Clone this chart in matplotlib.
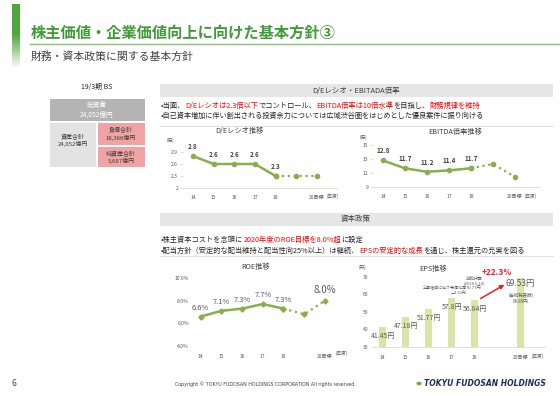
import numpy as np
import matplotlib
matplotlib.use("Agg")
import matplotlib.pyplot as plt
from matplotlib.patches import Rectangle

plt.rcParams['font.family'] = ['Noto Sans CJK JP', 'DejaVu Sans']

# data
years = ['14', '15', '16', '17', '18', '', '20目標']
de_ratio = [2.8, 2.6, 2.6, 2.6, 2.3, 2.3, 2.3]
ebitda = [12.8, 11.7, 11.2, 11.4, 11.7, 12.3, 10.5]
roe = [6.6, 7.1, 7.3, 7.7, 7.3, 6.8, 8.0]
eps = [41.45, 47.18, 51.77, 57.8, 56.84, np.nan, 69.53]
eps_labels = ['41.45円', '47.18円', '51.77円', '57.8円', '56.84円', '', '69.53円']
bs_labels = ['総資産\n24,052億円', '資産合計\n24,052億円', '負債合計\n18,366億円', '純資産合計\n5,687億円']

W, H = 560, 396
GREEN = '#8AAE4C'
DARK = '#262626'
GRAY = '#595959'
RED = '#FF0000'

fig = plt.figure(figsize=(W / 100, H / 100), dpi=100)
fig.patch.set_facecolor('white')
rend = fig.canvas.get_renderer()


def fx(x):
    return x / W


def fy(y):
    return 1 - y / H


def rect(x0, y0, x1, y1):
    return [x0 / W, 1 - y1 / H, (x1 - x0) / W, (y1 - y0) / H]


def box(x0, y0, x1, y1, color):
    fig.add_artist(Rectangle((fx(x0), fy(y1)), (x1 - x0) / W, (y1 - y0) / H,
                             transform=fig.transFigure, facecolor=color, edgecolor='none'))


def hline(y, x0, x1, color, lw=0.6):
    fig.add_artist(plt.Line2D([fx(x0), fx(x1)], [fy(y), fy(y)], transform=fig.transFigure,
                              color=color, lw=lw))


def rich(x, y, parts, size):
    cx = x
    for s, c in parts:
        t = fig.text(fx(cx), fy(y), s, color=c, fontsize=size, va='center', ha='left')
        cx += t.get_window_extent(renderer=rend).width


# title block
gax = fig.add_axes(rect(12, 4, 19, 68))
grad = np.ones((60, 1, 3))
g = np.array([0.31, 0.66, 0.24])
for i in range(60):
    a = 1.0 if i < 28 else max(0.0, 1 - (i - 28) / 32)
    grad[i, 0] = g * a + (1 - a)
gax.imshow(grad, aspect='auto')
gax.axis('off')
fig.text(fx(31), fy(33), '株主価値・企業価値向上に向けた基本方針③', fontsize=11,
         fontweight='bold', color='#3E9B37', va='center')
hline(44, 30, 560, '#8CC07A', lw=1.0)
fig.text(fx(31), fy(57), '財務・資本政策に関する基本方針', fontsize=7.8, color='#404040', va='center')

# balance sheet
fig.text(fx(97), fy(87), '19/3期 BS', fontsize=5, color=DARK, ha='center', va='center')
box(50, 99, 145, 121, '#B4B4B4')
box(50, 123, 96, 167, '#E3E3E3')
box(98, 123, 145, 145, '#EFA3A3')
box(98, 147, 145, 167, '#EFA3A3')
fig.text(fx(97), fy(110), bs_labels[0], fontsize=4.8, color='white', ha='center', va='center',
         linespacing=1.2)
fig.text(fx(73), fy(140), bs_labels[1], fontsize=4.3, color='#404040', ha='center', va='center',
         linespacing=1.2)
fig.text(fx(121), fy(134), bs_labels[2], fontsize=4.3, color='#404040', ha='center', va='center',
         linespacing=1.2)
fig.text(fx(121), fy(157), bs_labels[3], fontsize=4.3, color='#404040', ha='center', va='center',
         linespacing=1.2)

# section headers and bullets
box(160, 84, 553, 97, '#E6E6E6')
fig.text(fx(356), fy(90.5), 'D/Eレシオ・EBITADA倍率', fontsize=5.4, color='#404040',
         ha='center', va='center')
rich(161, 106, [('•当面、', DARK), ('D/Eレシオは2.3倍以下', RED), ('でコントロール、', DARK),
                ('EBITDA倍率は10倍水準', RED), ('を目指し、', DARK), ('財務規律を維持', RED)], 5.25)
rich(161, 116, [('•自己資本増加に伴い創出される投資余力については広域渋谷圏をはじめとした優良案件に振り向ける',
                 DARK)], 5.15)
hline(126, 160, 553, '#D9D9D9')

box(160, 213, 553, 226, '#E6E6E6')
fig.text(fx(356), fy(219.5), '資本政策', fontsize=5.4, color='#404040', ha='center', va='center')
rich(161, 240, [('•株主資本コストを念頭に', DARK), ('2020年度のROE目標を8.0%超', RED), ('に設定', DARK)], 5.2)
rich(161, 251, [('•配当方針（安定的な配当維持と配当性向25%以上）は継続、', DARK),
                ('EPSの安定的な成長', RED), ('を通じ、株主還元の充実を図る', DARK)], 5.2)
hline(256, 160, 553, '#D9D9D9')

x = np.arange(len(years))


def style(ax, bottom_spine=True):
    for s in ['top', 'right', 'left']:
        ax.spines[s].set_visible(False)
    ax.spines['bottom'].set_visible(bottom_spine)
    ax.spines['bottom'].set_color('#D9D9D9')
    ax.spines['bottom'].set_linewidth(0.6)
    ax.set_xticks(x)
    ax.set_xticklabels(years)
    ax.tick_params(axis='x', length=0, labelsize=3.6, labelcolor=GRAY, pad=5)
    ax.tick_params(axis='y', length=2, width=0.4, color='#BFBFBF', labelsize=3.6,
                   labelcolor=GRAY, pad=1.5)
    ax.patch.set_alpha(0)


def trend(ax, vals, marker, ms):
    ax.plot(x[:5], vals[:5], color=GREEN, lw=1.8, marker=marker, ms=ms, zorder=3)
    ax.plot(x[4:], vals[4:], color=GREEN, lw=1.6, ls=':', marker=marker, ms=ms, zorder=3)


# D/E ratio
ax1 = fig.add_axes(rect(183, 148, 337, 188))
trend(ax1, de_ratio, 'o', 3)
ax1.set_xlim(-0.48, 6.97)
ax1.set_ylim(2, 3)
ax1.set_yticks([2, 2.3, 2.6, 2.9])
ax1.set_yticklabels(['2', '2.3', '2.6', '2.9'])
style(ax1)
for i in range(5):
    ax1.annotate(f'{de_ratio[i]}', (x[i], de_ratio[i]), xytext=(0, 7), textcoords='offset points',
                 ha='center', va='center', fontsize=4.6, fontweight='bold', color='#404040')
fig.text(fx(239), fy(131), 'D/Eレシオ推移', fontsize=5.2, color='#404040', ha='center', va='center')
fig.text(fx(167), fy(140), '(倍)', fontsize=3.3, color=GRAY, va='center')
fig.text(fx(327), fy(196), '(年度)', fontsize=3.3, color=GRAY, va='center')

# EBITDA multiple
ax2 = fig.add_axes(rect(373, 143, 540, 187.3))
trend(ax2, ebitda, 'o', 3)
ax2.set_xlim(-0.45, 7.14)
ax2.set_ylim(9, 15.28)
ax2.set_yticks([9, 11, 13, 15])
style(ax2)
for i in range(5):
    ax2.annotate(f'{ebitda[i]}', (x[i], ebitda[i]), xytext=(0, 7), textcoords='offset points',
                 ha='center', va='center', fontsize=4.6, fontweight='bold', color='#404040')
fig.text(fx(455), fy(132), 'EBITDA倍率推移', fontsize=5.2, color='#404040', ha='center', va='center')
fig.text(fx(360), fy(137), '(倍)', fontsize=3.3, color=GRAY, va='center')
fig.text(fx(525), fy(196), '(年度)', fontsize=3.3, color=GRAY, va='center')

# ROE
ax3 = fig.add_axes(rect(193, 278, 345, 346))
trend(ax3, roe, 'D', 2.6)
ax3.set_xlim(-0.37, 6.97)
ax3.set_ylim(4, 10)
ax3.set_yticks([4, 6, 8, 10])
ax3.set_yticklabels(['4.0%', '6.0%', '8.0%', '10.0%'])
style(ax3, bottom_spine=False)
ax3.tick_params(axis='y', length=0, pad=3)
ax3.tick_params(axis='x', pad=6)
for i in range(5):
    ax3.annotate(f'{roe[i]:.1f}%', (x[i], roe[i]), xytext=(0, 6.5), textcoords='offset points',
                 ha='center', va='center', fontsize=5.4, color=GRAY)
ax3.annotate(f'{roe[6]:.1f}%', (x[6], roe[6]), xytext=(0, 7.5), textcoords='offset points',
             ha='center', va='center', fontsize=7, color=GRAY)
fig.text(fx(256), fy(267), 'ROE推移', fontsize=5.2, color='#404040', ha='center', va='center')
fig.text(fx(336), fy(353), '(年度)', fontsize=3.3, color=GRAY, va='center')

# EPS
ax4 = fig.add_axes(rect(372, 276, 545, 347))
ax4.bar(x, np.array(eps) - 30, bottom=30, width=0.32, color='#D9E5A6', zorder=2)
ax4.set_xlim(-0.47, 7.06)
ax4.set_ylim(30, 70.4)
ax4.set_yticks([30, 40, 50, 60, 70])
style(ax4)
ax4.tick_params(axis='y', length=0, pad=2.5)
ax4.tick_params(axis='x', pad=6)
for i in range(5):
    ax4.text(x[i], eps[i] - 5.2, eps_labels[i], ha='center', va='center', fontsize=5, color=GRAY,
             zorder=4)
ax4.text(x[6], 66.4, eps_labels[6], ha='center', va='center', fontsize=6, color=GRAY, zorder=4)
ax4.text(x[6], 57.5, '(当初発表時)\n68.89円', ha='center', va='center', fontsize=3.2, color=GRAY,
         linespacing=1.2, zorder=4)
ax4.text(3.98, 66.3, '当初計画\n(2018.5.10)\n60.77円', ha='center', va='center', fontsize=3,
         color=GRAY, linespacing=1.15, zorder=4)
ax4.text(3.67, 62.3, '公募増資に伴う希薄化等\n△3.93円', ha='right', va='center', fontsize=2.9,
         color=GRAY, linespacing=1.15, zorder=4)
ax4.annotate('', xy=(5.4, 66.2), xytext=(4.15, 56.8),
             arrowprops=dict(arrowstyle='-|>', color='#E8202A', lw=1.1, mutation_scale=6), zorder=5)
ax4.text(4.95, 72.2, '+22.3%', ha='center', va='center', fontsize=6, fontweight='bold',
         color='#E8202A')
fig.text(fx(433), fy(269), 'EPS推移', fontsize=5.2, color='#404040', ha='center', va='center')
fig.text(fx(359), fy(267), '(円)', fontsize=3.3, color=GRAY, va='center')
fig.text(fx(532), fy(356), '(年度)', fontsize=3.3, color=GRAY, va='center')

# footer
fig.text(fx(12), fy(384), '6', fontsize=6, color='#404040', va='center')
fig.text(fx(265), fy(384), 'Copyright © TOKYU FUDOSAN HOLDINGS CORPORATION All rights reserved.',
         fontsize=3.4, color='#404040', ha='center', va='center', family=['DejaVu Sans'])
fig.add_artist(plt.Circle((fx(419), fy(383.5)), 2.6 / W, transform=fig.transFigure,
                          facecolor='#6DB33F', edgecolor='none'))
fig.text(fx(424), fy(383.5), 'TOKYU FUDOSAN HOLDINGS', fontsize=5.5, fontweight='bold',
         fontstyle='italic', color='#1F2D5C', va='center', family=['DejaVu Sans'])

fig.savefig('out.png', dpi=100)
